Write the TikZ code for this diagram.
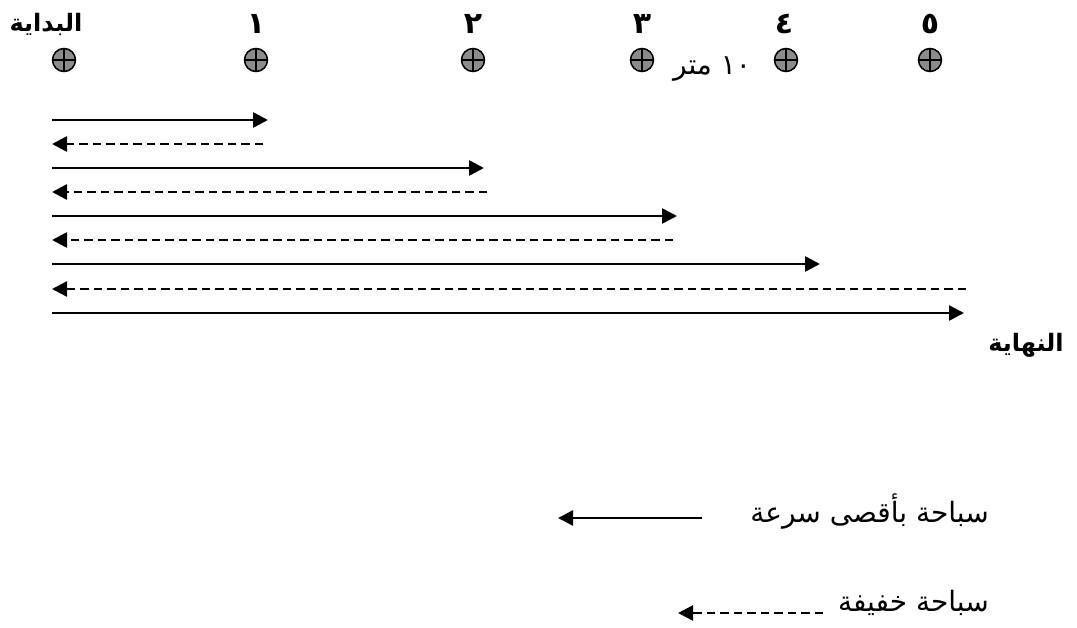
\documentclass[tikz,border=0pt]{standalone}
\usepackage{fontspec}
\newfontfamily\arabicfont[Script=Arabic]{DejaVu Sans}
\TeXXeTstate=1
\usetikzlibrary{arrows.meta}
\definecolor{markgray}{RGB}{140,140,140}
\tikzset{
  marker/.style={circle,draw=black,line width=1.5pt,fill=markgray,minimum size=23pt,inner sep=0pt,
    path picture={\draw[line width=1.4pt] (path picture bounding box.north) -- (path picture bounding box.south)
      (path picture bounding box.west) -- (path picture bounding box.east);}},
  fast/.style={line width=2.5pt,-{Triangle[length=15pt,width=15pt]}},
  slow/.style={line width=2.5pt,dash pattern=on 8.5pt off 5pt,-{Triangle[length=15pt,width=15pt]}},
  head/.style={font=\arabicfont\bfseries\fontsize{24}{28}\selectfont,inner sep=0pt},
  digit/.style={font=\arabicfont\bfseries\fontsize{30}{34}\selectfont,inner sep=0pt},
  lbl/.style={font=\arabicfont\fontsize{28}{32}\selectfont,inner sep=0pt}
}
\begin{document}
\begin{tikzpicture}[x=1pt,y=-1pt]
\useasboundingbox[fill=white] (0,0) rectangle (1077,627);
% markers
\node[marker] (m0) at (64,60) {};
\node[marker] (m1) at (256,60) {};
\node[marker] (m2) at (473,60) {};
\node[marker] (m3) at (642,60) {};
\node[marker] (m4) at (786,60) {};
\node[marker] (m5) at (930,60) {};
% labels
\node[head] (t0) at (46,24) {\beginR البداية\endR};
\node[digit] (t1) at (256,24) {\beginR ١\endR};
\node[digit] (t2) at (473,24) {\beginR ٢\endR};
\node[digit] (t3) at (642,24) {\beginR ٣\endR};
\node[digit] (t4) at (784,24) {\beginR ٤\endR};
\node[digit] (t5) at (930,24) {\beginR ٥\endR};
\node[lbl] (dist) at (712,69) {\beginR\beginL ١٠\endL{} متر\endR};
\node[head] (end) at (1026,345) {\beginR النهاية\endR};
% arrow endpoints
\coordinate (s1) at (52,120); \coordinate (e1) at (268,120);
\coordinate (s2) at (263,144); \coordinate (e2) at (52,144);
\coordinate (s3) at (52,168); \coordinate (e3) at (484,168);
\coordinate (s4) at (487,192); \coordinate (e4) at (52,192);
\coordinate (s5) at (52,216); \coordinate (e5) at (677,216);
\coordinate (s6) at (673,240); \coordinate (e6) at (52,240);
\coordinate (s7) at (52,264); \coordinate (e7) at (820,264);
\coordinate (s8) at (966,289); \coordinate (e8) at (52,289);
\coordinate (s9) at (52,313); \coordinate (e9) at (964,313);
\draw[fast] (s1) -- (e1);
\draw[slow] (s2) -- (e2);
\draw[fast] (s3) -- (e3);
\draw[slow] (s4) -- (e4);
\draw[fast] (s5) -- (e5);
\draw[slow] (s6) -- (e6);
\draw[fast] (s7) -- (e7);
\draw[slow] (s8) -- (e8);
\draw[fast] (s9) -- (e9);
% legend
\coordinate (ls1) at (702,518); \coordinate (le1) at (558,518);
\coordinate (ls2) at (823,613); \coordinate (le2) at (678,613);
\draw[fast] (ls1) -- (le1);
\draw[slow] (ls2) -- (le2);
\node[lbl,anchor=east] (l1) at (989,512) {\beginR سباحة بأقصى سرعة\endR};
\node[lbl,anchor=east] (l2) at (989,603) {\beginR سباحة خفيفة\endR};
\end{tikzpicture}
\end{document}
